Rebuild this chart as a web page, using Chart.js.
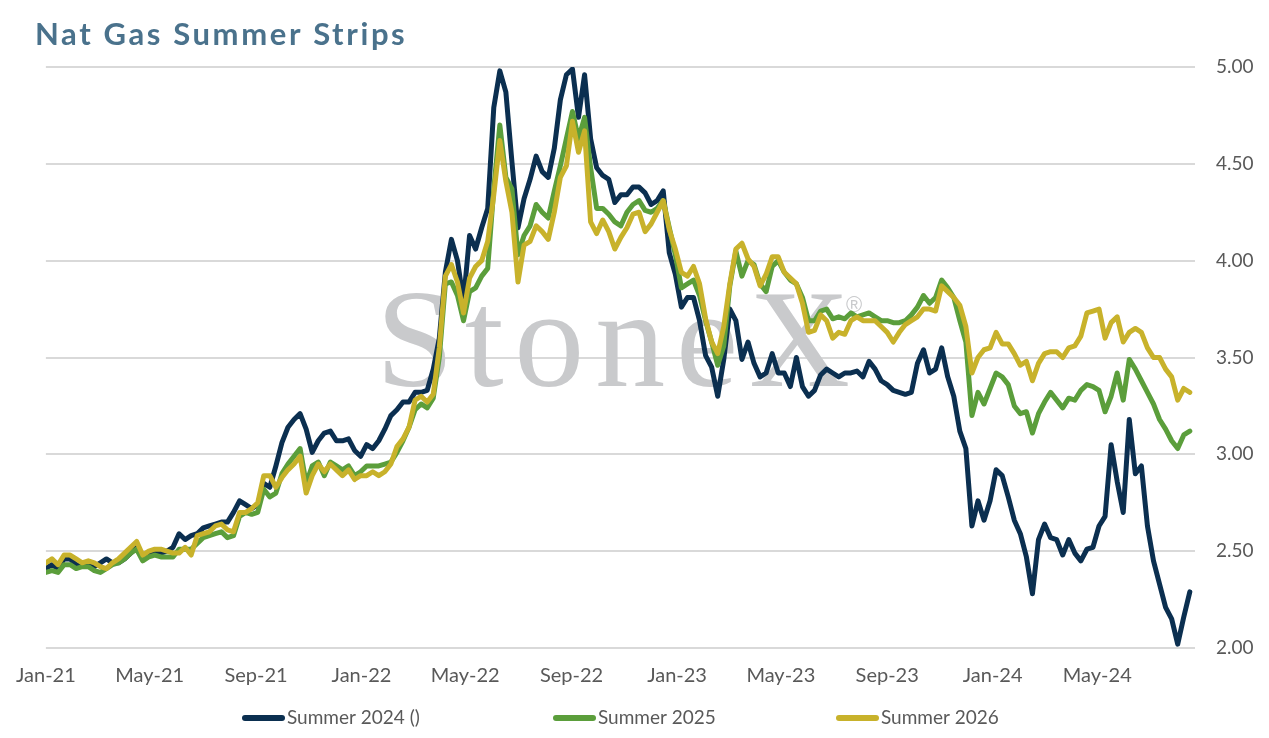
<!DOCTYPE html>
<html><head><meta charset="utf-8">
<script src="https://cdn.jsdelivr.net/npm/chart.js@4.4.0/dist/chart.umd.min.js"></script>
<style>html,body{margin:0;padding:0;background:#fff;}#wrap{width:1269px;height:738px;position:relative;}</style>
</head><body><div id="wrap"><canvas id="c" width="1269" height="738"></canvas></div>
<script>
const chartTitle = 'Nat Gas Summer Strips';
const seriesNames = ['Summer 2024 ()', 'Summer 2025', 'Summer 2026'];
const seriesColors = ['#0b2f50', '#5b9e3b', '#c8b22b'];
const startDate = [2021, 0, 1];
const stepDays = 7;
const tickLabels = ['Jan-21','May-21','Sep-21','Jan-22','May-22','Sep-22','Jan-23','May-23','Sep-23','Jan-24','May-24'];
const yMin = 2, yMax = 5, yStep = 0.5;
const watermark = 'StoneX';

const summer2024 = [
2.41,2.43,2.41,2.46,2.46,2.43,2.43,2.43,2.42,2.44,
2.46,2.44,2.44,2.46,2.49,2.52,2.47,2.49,2.50,2.49,
2.50,2.52,2.59,2.56,2.58,2.59,2.62,2.63,2.64,2.65,
2.65,2.70,2.76,2.74,2.72,2.74,2.85,2.83,2.94,3.06,
3.14,3.18,3.21,3.13,3.01,3.07,3.11,3.12,3.07,3.07,
3.08,3.02,2.99,3.05,3.03,3.07,3.13,3.20,3.23,3.27,
3.27,3.32,3.32,3.33,3.44,3.60,3.94,4.11,4.00,3.79,
4.13,4.06,4.17,4.27,4.79,4.98,4.87,4.51,4.17,4.32,
4.42,4.54,4.46,4.43,4.58,4.83,4.96,4.99,4.74,4.96,
4.63,4.48,4.44,4.42,4.30,4.34,4.34,4.38,4.38,4.35,
4.29,4.31,4.36,4.04,3.93,3.76,3.81,3.81,3.69,3.51,
3.45,3.30,3.49,3.75,3.69,3.49,3.58,3.47,3.40,3.42,
3.52,3.42,3.42,3.35,3.50,3.35,3.30,3.33,3.41,3.44,
3.42,3.40,3.42,3.42,3.43,3.40,3.48,3.44,3.38,3.36,
3.33,3.32,3.31,3.32,3.47,3.54,3.42,3.44,3.55,3.40,
3.30,3.12,3.03,2.63,2.76,2.66,2.76,2.92,2.89,2.78,
2.66,2.59,2.47,2.28,2.56,2.64,2.57,2.56,2.48,2.56,
2.49,2.45,2.51,2.52,2.63,2.68,3.05,2.86,2.70,3.18,
2.90,2.94,2.63,2.45,2.33,2.21,2.15,2.02,2.16,2.29];

const summer2025 = [
2.39,2.40,2.39,2.43,2.43,2.41,2.42,2.42,2.40,2.39,
2.41,2.43,2.44,2.46,2.49,2.51,2.45,2.47,2.48,2.47,
2.47,2.47,2.51,2.51,2.51,2.54,2.57,2.58,2.59,2.60,
2.57,2.58,2.68,2.70,2.69,2.70,2.82,2.78,2.80,2.90,
2.95,2.99,3.03,2.85,2.94,2.96,2.89,2.96,2.94,2.92,
2.94,2.89,2.91,2.94,2.94,2.94,2.95,2.96,3.01,3.07,
3.14,3.23,3.26,3.24,3.29,3.50,3.88,3.89,3.82,3.69,
3.84,3.86,3.92,3.96,4.37,4.70,4.43,4.37,4.03,4.13,
4.18,4.29,4.25,4.22,4.36,4.49,4.63,4.77,4.63,4.74,
4.48,4.27,4.27,4.24,4.20,4.18,4.25,4.29,4.31,4.26,
4.25,4.27,4.31,4.17,4.03,3.86,3.88,3.90,3.82,3.69,
3.58,3.46,3.56,3.87,4.05,3.92,4.00,3.98,3.88,3.84,
3.97,4.00,3.94,3.90,3.88,3.81,3.69,3.69,3.74,3.75,
3.70,3.71,3.70,3.73,3.71,3.72,3.73,3.71,3.69,3.69,
3.68,3.68,3.69,3.72,3.76,3.82,3.78,3.81,3.90,3.86,
3.81,3.69,3.58,3.20,3.32,3.26,3.34,3.42,3.40,3.36,
3.25,3.21,3.22,3.11,3.21,3.27,3.32,3.28,3.24,3.29,
3.28,3.33,3.36,3.35,3.33,3.22,3.30,3.42,3.28,3.49,
3.44,3.38,3.32,3.26,3.18,3.13,3.07,3.03,3.10,3.12];

const summer2026 = [
2.44,2.46,2.43,2.48,2.48,2.46,2.44,2.45,2.44,2.42,
2.41,2.44,2.46,2.49,2.52,2.55,2.48,2.50,2.51,2.51,
2.50,2.49,2.49,2.52,2.48,2.58,2.59,2.60,2.63,2.64,
2.61,2.60,2.70,2.70,2.72,2.75,2.89,2.89,2.83,2.88,
2.92,2.95,2.99,2.80,2.89,2.95,2.91,2.95,2.92,2.89,
2.92,2.87,2.89,2.89,2.91,2.89,2.91,2.95,3.04,3.08,
3.14,3.28,3.30,3.27,3.31,3.55,3.92,3.98,3.89,3.73,
3.91,3.97,4.00,4.10,4.34,4.62,4.41,4.25,3.89,4.08,
4.10,4.18,4.15,4.11,4.25,4.43,4.49,4.72,4.56,4.67,
4.20,4.14,4.21,4.15,4.06,4.12,4.17,4.24,4.25,4.15,
4.19,4.25,4.31,4.16,4.06,3.94,3.92,3.97,3.88,3.70,
3.58,3.52,3.66,3.88,4.06,4.09,4.01,3.97,3.87,3.93,
4.02,4.02,3.94,3.91,3.88,3.78,3.63,3.64,3.72,3.69,
3.60,3.63,3.62,3.69,3.71,3.69,3.69,3.69,3.66,3.63,
3.58,3.63,3.67,3.69,3.71,3.75,3.75,3.74,3.87,3.84,
3.81,3.77,3.66,3.42,3.50,3.54,3.55,3.63,3.57,3.57,
3.52,3.46,3.48,3.38,3.47,3.52,3.53,3.53,3.50,3.55,
3.56,3.61,3.73,3.74,3.75,3.60,3.68,3.71,3.58,3.63,
3.65,3.63,3.55,3.50,3.50,3.44,3.40,3.28,3.34,3.32];

const MONTHS = {Jan:0,Feb:1,Mar:2,Apr:3,May:4,Jun:5,Jul:6,Aug:7,Sep:8,Oct:9,Nov:10,Dec:11};
const DAY = 86400000;
const t0 = Date.UTC(startDate[0], startDate[1], startDate[2]);
function dayOffset(lbl) {
  const [m, yy] = lbl.split('-');
  return (Date.UTC(2000 + Number(yy), MONTHS[m], 1) - t0) / DAY;
}
const toPoints = arr => arr.map((v, i) => ({x: i * stepDays, y: v}));
const allSeries = [summer2024, summer2025, summer2026];

const FONT = 'Lato, "Open Sans", sans-serif';

const titlePlugin = {
  id: 'titleText',
  afterDraw(chart) {
    const ctx = chart.ctx;
    ctx.save();
    ctx.font = 'bold 31px ' + FONT;
    ctx.fillStyle = '#4a728c';
    ctx.textBaseline = 'alphabetic';
    ctx.textAlign = 'left';
    if ('letterSpacing' in ctx) ctx.letterSpacing = '2.6px';
    ctx.fillText(chartTitle, 35, 45);
    ctx.restore();
  }
};

const watermarkPlugin = {
  id: 'watermark',
  beforeDatasetsDraw(chart) {
    const ctx = chart.ctx;
    ctx.save();
    ctx.fillStyle = '#c9cacc';
    ctx.font = '140px "Liberation Serif", "DejaVu Serif", serif';
    ctx.textBaseline = 'alphabetic';
    ctx.textAlign = 'left';
    const w = ctx.measureText(watermark).width;
    const target = 474;
    if ('letterSpacing' in ctx) ctx.letterSpacing = Math.max(0, (target - w) / 5) + 'px';
    ctx.fillText(watermark, 376, 386);
    if ('letterSpacing' in ctx) ctx.letterSpacing = '0px';
    ctx.font = '22px "Liberation Sans", sans-serif';
    ctx.fillText('\u00AE', 846, 312);
    ctx.restore();
  }
};

const legendPlugin = {
  id: 'customLegend',
  afterDraw(chart) {
    const ctx = chart.ctx;
    const starts = [242, 553, 836];
    const cy = 718;
    ctx.save();
    ctx.font = '19px ' + FONT;
    ctx.textBaseline = 'middle';
    ctx.textAlign = 'left';
    chart.data.datasets.forEach((ds, i) => {
      const x = starts[i];
      ctx.strokeStyle = ds.borderColor;
      ctx.lineWidth = 6;
      ctx.lineCap = 'round';
      ctx.beginPath();
      ctx.moveTo(x + 3, cy);
      ctx.lineTo(x + 40, cy);
      ctx.stroke();
      ctx.fillStyle = '#595959';
      ctx.fillText(ds.label, x + 45, cy);
    });
    ctx.restore();
  }
};

new Chart(document.getElementById('c'), {
  type: 'line',
  data: {
    datasets: allSeries.map((arr, i) => ({
      label: seriesNames[i],
      data: toPoints(arr),
      borderColor: seriesColors[i],
      backgroundColor: seriesColors[i],
      borderWidth: 5,
      pointRadius: 0,
      tension: 0,
      borderJoinStyle: 'round',
      borderCapStyle: 'round',
      order: 3 - i
    }))
  },
  options: {
    responsive: false,
    animation: false,
    layout: {padding: {left: 43, right: 0, top: 67, bottom: 50}},
    plugins: {
      legend: {display: false},
      tooltip: {enabled: false},
      title: {display: false}
    },
    scales: {
      x: {
        type: 'linear',
        min: 0,
        max: 1329,
        grid: {display: false, drawTicks: false},
        border: {display: false},
        afterBuildTicks: scale => { scale.ticks = tickLabels.map(l => ({value: dayOffset(l)})); },
        afterFit: scale => { scale.height = 40; },
        ticks: {
          autoSkip: false,
          maxRotation: 0,
          padding: 16,
          color: '#595959',
          font: {family: FONT, size: 20},
          callback: (v, i) => tickLabels[i]
        }
      },
      y: {
        position: 'right',
        min: yMin,
        max: yMax,
        afterFit: scale => { scale.width = 74; },
        grid: {color: '#d9d9d9', lineWidth: 2, drawTicks: false},
        border: {display: false},
        ticks: {
          stepSize: yStep,
          padding: 21,
          color: '#595959',
          font: {family: FONT, size: 19},
          callback: v => Number(v).toFixed(2)
        }
      }
    }
  },
  plugins: [titlePlugin, watermarkPlugin, legendPlugin]
});
</script></body></html>
